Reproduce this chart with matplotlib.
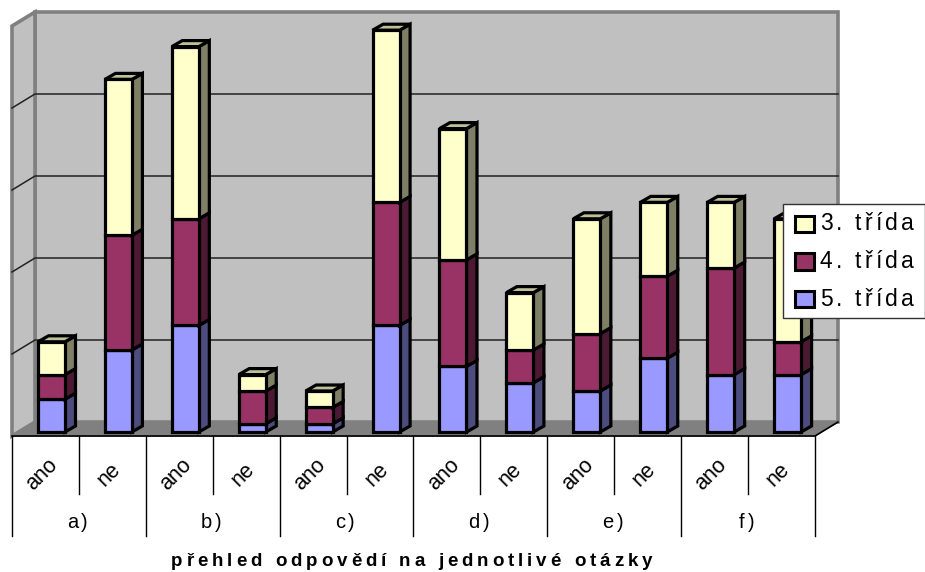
import matplotlib
matplotlib.use('Agg')
import matplotlib.pyplot as plt
from matplotlib.patches import Polygon, Rectangle
from matplotlib.text import Text
from matplotlib.transforms import IdentityTransform, Bbox

plt.rcParams['font.family'] = ['Liberation Sans', 'DejaVu Sans']

skupiny = ['a)', 'b)', 'c)', 'd)', 'e)', 'f)']
odpovedi = ['ano', 'ne'] * 6
trida5 = [4, 10, 13, 1, 1, 13, 8, 6, 5, 9, 7, 7]
trida4 = [3, 14, 13, 4, 2, 15, 13, 4, 7, 10, 13, 4]
trida3 = [4, 19, 21, 2, 2, 21, 16, 7, 14, 9, 8, 15]
nazvy = ['3. třída', '4. třída', '5. třída']
nadpis = 'přehled odpovědí na jednotlivé otázky'
mrizka = [0, 10, 20, 30, 40, 50]

# barvy: predek, bok, vrsek
modra = ('#9999FF', '#4C4C7F', '#7A7ACC')
fialova = ('#993366', '#4C1933', '#7A2952')
zluta = ('#FFFFCC', '#7F7F66', '#BFBF99')

W, H = 925, 572


class RozpalenyText(Text):
    """text s prostrkanymi pismeny, matplotlib to sam neumi"""

    def __init__(self, x, y, s, rozpal=3, **kw):
        super().__init__(x, y, s, **kw)
        self.rozpal = rozpal

    def _sirky(self, renderer):
        fp = self.get_fontproperties()
        return [renderer.get_text_width_height_descent(c, fp, False)[0] + self.rozpal
                for c in self.get_text()]

    def get_window_extent(self, renderer=None, dpi=None):
        renderer = renderer or self.get_figure().canvas.get_renderer()
        sirka = sum(self._sirky(renderer))
        vyska = self.get_fontproperties().get_size_in_points() * 100 / 72
        x, y = self.get_transform().transform(self.get_position())
        if self.get_ha() == 'center':
            x -= sirka / 2
        return Bbox.from_bounds(x, y - vyska / 2, sirka, vyska)

    def draw(self, renderer):
        sirky = self._sirky(renderer)
        x, y = self.get_transform().transform(self.get_position())
        if self.get_ha() == 'center':
            x -= sum(sirky) / 2
        for c, s in zip(self.get_text(), sirky):
            t = Text(x, y, c, fontproperties=self.get_fontproperties(), color=self.get_color(),
                     ha='left', va=self.get_va(), transform=IdentityTransform())
            t.set_figure(self.get_figure())
            t.set_zorder(self.get_zorder())
            t.draw(renderer)
            x += s


fig = plt.figure(figsize=(W / 100, H / 100), dpi=100)
# osy = predni rovina grafu: 12 kategorii, 0-50 hodnot
ax = fig.add_axes([12 / W, (H - 436) / H, 803 / W, 410 / H])
ax.set_xlim(0, 12)
ax.set_ylim(0, 50)
ax.axis('off')

hx = 23 / (803 / 12)  # hloubka steny
hy = 14 / 8.2
bx = 10.5 / (803 / 12)  # hloubka sloupce
by = 6 / 8.2
odsazeni = 26 / (803 / 12)
sirka = 27 / (803 / 12)
zaklad = 4 / 8.2

# steny a podlaha
sed = '#808080'
ax.add_patch(Polygon([(hx, hy), (12 + hx, hy), (12 + hx, 50 + hy), (hx, 50 + hy)],
                     fc='#C0C0C0', ec=sed, lw=2.6, clip_on=False, zorder=1))
ax.add_patch(Polygon([(0, 0), (hx, hy), (hx, 50 + hy), (0, 50)],
                     fc='#C0C0C0', ec=sed, lw=2.6, clip_on=False, zorder=1))
ax.add_patch(Polygon([(0, 0), (12, 0), (12 + hx, hy), (hx, hy)],
                     fc=sed, ec=sed, lw=1, clip_on=False, zorder=1.5))
for v in mrizka[1:-1]:
    ax.plot([0, hx, 12 + hx], [v, v + hy, v + hy], color='#222222', lw=1.1,
            clip_on=False, zorder=2, solid_joinstyle='miter')

# sloupce
for i in range(12):
    x0 = i + odsazeni
    dole = zaklad
    rady = [(trida5[i], modra), (trida4[i], fialova), (trida3[i], zluta)]
    for j, (hodnota, barvy) in enumerate(rady):
        nahore = dole + hodnota
        z = 3 + i + j * 0.1
        ax.bar(x0, hodnota, sirka, bottom=dole, align='edge', color=barvy[0], edgecolor='black',
               linewidth=2.3, clip_on=False, zorder=z + 0.02)
        ax.add_patch(Polygon([(x0 + sirka, dole), (x0 + sirka + bx, dole + by),
                              (x0 + sirka + bx, nahore + by), (x0 + sirka, nahore)],
                             fc=barvy[1], ec='black', lw=2.3, clip_on=False, zorder=z))
        if j == 2:
            ax.add_patch(Polygon([(x0, nahore), (x0 + bx, nahore + by),
                                  (x0 + sirka + bx, nahore + by), (x0 + sirka, nahore)],
                                 fc=barvy[2], ec='black', lw=2.3, clip_on=False, zorder=z + 0.01))
        dole = nahore

# popisky kategorii
ax.plot([0, 12, 12 + hx], [0, 0, hy], color='black', lw=1.2, clip_on=False, zorder=2)
for i in range(13):
    konec = -100 / 8.2 if i % 2 == 0 else -58 / 8.2
    ax.plot([i, i], [0, konec], color='black', lw=1, clip_on=False, zorder=2)
for i, t in enumerate(odpovedi):
    ax.text(i + 0.45, -39 / 8.2, t, rotation=45, ha='center', va='center', fontsize=15.5,
            color='black', clip_on=False, rotation_mode='anchor')
for i, t in enumerate(skupiny):
    lab = RozpalenyText(2 * i + 1, -87 / 8.2, t, rozpal=3, ha='center', va='center', fontsize=14.5,
                        color='black', transform=ax.transData)
    fig.add_artist(lab)

fig.add_artist(RozpalenyText(413.5 / W, (H - 561) / H, nadpis, rozpal=3.95, ha='center', va='center',
                             fontsize=13.5, fontweight='bold', color='black',
                             transform=fig.transFigure))

# legenda
fig.add_artist(Rectangle((783 / W, (H - 318) / H), 142 / W, 114 / H, fc='white', ec='#333333', lw=1,
                         transform=fig.transFigure, zorder=30))
for k, (nazev, barvy) in enumerate(zip(nazvy, [zluta, fialova, modra])):
    yc = 224 + k * 37.5
    fig.add_artist(Rectangle((794.5 / W, (H - yc - 8) / H), 19.5 / W, 16 / H, fc=barvy[0], ec='black', lw=2.2,
                             transform=fig.transFigure, zorder=31))
    fig.add_artist(RozpalenyText(820 / W, (H - yc) / H, nazev, rozpal=3.2, ha='left', va='center',
                                 fontsize=16.5, color='black', transform=fig.transFigure, zorder=31))

fig.savefig('out.png', dpi=100)
